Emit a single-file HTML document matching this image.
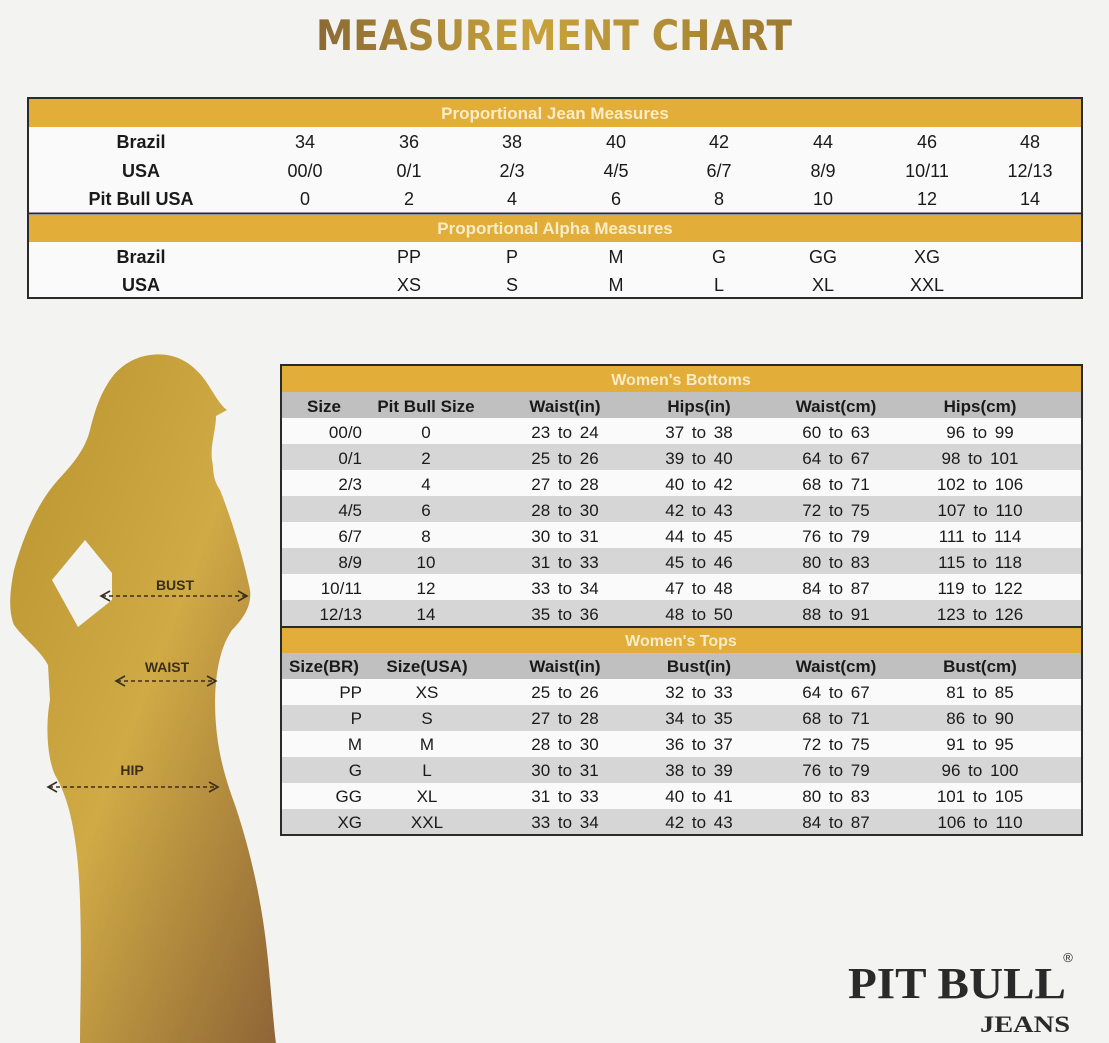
<!DOCTYPE html>
<html><head><meta charset="utf-8"><style>
html,body{margin:0;padding:0;background:#f3f3f2;}
svg{display:block;font-family:"Liberation Sans",Arial,sans-serif;}
</style></head><body>
<svg width="1109" height="1043" viewBox="0 0 1109 1043" xmlns="http://www.w3.org/2000/svg">
<defs>
<linearGradient id="tg" x1="0" x2="1" y1="0" y2="0">
<stop offset="0" stop-color="#8a6a35"/><stop offset="0.45" stop-color="#c9a33c"/><stop offset="1" stop-color="#9c7a30"/>
</linearGradient>
<linearGradient id="bg" x1="0" y1="0" x2="1" y2="1">
<stop offset="0" stop-color="#b8932e"/><stop offset="0.5" stop-color="#d0aa45"/><stop offset="1" stop-color="#8e6536"/>
</linearGradient>
</defs>
<rect width="1109" height="1043" fill="#f3f3f2"/>
<text x="554" y="50" font-family="'DejaVu Sans',sans-serif" font-size="42" font-weight="bold" text-anchor="middle" fill="url(#tg)" textLength="476" lengthAdjust="spacingAndGlyphs">MEASUREMENT CHART</text>

<!-- top table -->
<rect x="28" y="98" width="1054" height="200" fill="#fafafa" stroke="#2a2a2a" stroke-width="2"/>
<rect x="29" y="99" width="1052" height="28" fill="#e2ad38"/>
<rect x="29" y="215" width="1052" height="27" fill="#e2ad38"/>
<line x1="28" y1="213.5" x2="1082" y2="213.5" stroke="#2a2a2a" stroke-width="2"/>
<g font-size="17" font-weight="bold" fill="#f8edc8" text-anchor="middle">
<text x="555" y="119">Proportional Jean Measures</text>
<text x="555" y="234">Proportional Alpha Measures</text>
</g>
<g font-size="18" fill="#1a1a1a" text-anchor="middle">
<g font-weight="bold"><text x="141" y="148">Brazil</text><text x="141" y="177">USA</text><text x="141" y="205">Pit Bull USA</text><text x="141" y="263">Brazil</text><text x="141" y="291">USA</text></g>
<text x="305" y="148">34</text><text x="409" y="148">36</text><text x="512" y="148">38</text><text x="616" y="148">40</text><text x="719" y="148">42</text><text x="823" y="148">44</text><text x="927" y="148">46</text><text x="1030" y="148">48</text>
<text x="305" y="177">00/0</text><text x="409" y="177">0/1</text><text x="512" y="177">2/3</text><text x="616" y="177">4/5</text><text x="719" y="177">6/7</text><text x="823" y="177">8/9</text><text x="927" y="177">10/11</text><text x="1030" y="177">12/13</text>
<text x="305" y="205">0</text><text x="409" y="205">2</text><text x="512" y="205">4</text><text x="616" y="205">6</text><text x="719" y="205">8</text><text x="823" y="205">10</text><text x="927" y="205">12</text><text x="1030" y="205">14</text>
<text x="409" y="263">PP</text><text x="512" y="263">P</text><text x="616" y="263">M</text><text x="719" y="263">G</text><text x="823" y="263">GG</text><text x="927" y="263">XG</text>
<text x="409" y="291">XS</text><text x="512" y="291">S</text><text x="616" y="291">M</text><text x="719" y="291">L</text><text x="823" y="291">XL</text><text x="927" y="291">XXL</text>
</g>

<!-- silhouette -->
<path fill="url(#bg)" d="M150 355 C172 352 190 360 205 380 C215 395 220 405 227 410 L216 416 C216 430 210 445 212 460 C214 470 212 478 220 490 C232 520 244 560 250 590 C252 605 244 618 232 630 C222 645 216 665 215 700 C215 740 222 770 235 805 C250 850 262 900 268 960 C272 1000 274 1030 276 1043 L80 1043 C80 1010 82 960 80 900 C78 840 70 800 55 775 C46 755 46 720 50 700 L48 665 C40 650 25 640 14 625 C8 610 10 590 14 570 C25 530 40 500 58 480 C72 465 85 450 90 430 C95 410 100 395 110 380 C120 365 135 357 150 355 Z M85 540 L112 573 L112 600 L78 627 L52 580 Z" fill-rule="evenodd"/>
<g font-size="14" font-weight="bold" fill="#3a2f1c" text-anchor="middle">
<text x="175" y="590">BUST</text><text x="167" y="672">WAIST</text><text x="132" y="775">HIP</text>
</g>
<g stroke="#3a2f1c" stroke-width="1.6" fill="none">
<line x1="102" y1="596" x2="246" y2="596" stroke-dasharray="4 3"/>
<polyline points="110,591 101,596 110,601"/><polyline points="238,591 247,596 238,601"/>
<line x1="117" y1="681" x2="215" y2="681" stroke-dasharray="4 3"/>
<polyline points="125,676 116,681 125,686"/><polyline points="207,676 216,681 207,686"/>
<line x1="49" y1="787" x2="217" y2="787" stroke-dasharray="4 3"/>
<polyline points="57,782 48,787 57,792"/><polyline points="209,782 218,787 209,792"/>
</g>

<!-- bottom table -->
<rect x="281" y="365" width="801" height="470" fill="#fafafa" stroke="#2a2a2a" stroke-width="2"/>
<rect x="282" y="366" width="799" height="26" fill="#e2ad38"/>
<rect x="282" y="392" width="799" height="26" fill="#c0c0c0"/>
<g fill="#d6d6d6">
<rect x="282" y="444" width="799" height="26"/><rect x="282" y="496" width="799" height="26"/><rect x="282" y="548" width="799" height="26"/><rect x="282" y="600" width="799" height="26"/>
</g>
<line x1="281" y1="627" x2="1082" y2="627" stroke="#2a2a2a" stroke-width="2"/>
<rect x="282" y="628" width="799" height="25" fill="#e2ad38"/>
<rect x="282" y="653" width="799" height="26" fill="#c0c0c0"/>
<g fill="#d6d6d6">
<rect x="282" y="705" width="799" height="26"/><rect x="282" y="757" width="799" height="26"/><rect x="282" y="809" width="799" height="25"/>
</g>
<g font-size="16" font-weight="bold" fill="#f8edc8" text-anchor="middle">
<text x="681" y="385">Women's Bottoms</text><text x="681" y="646">Women's Tops</text>
</g>
<g font-size="17" font-weight="bold" fill="#1a1a1a" text-anchor="middle">
<text x="324" y="412">Size</text><text x="426" y="412">Pit Bull Size</text><text x="565" y="412">Waist(in)</text><text x="699" y="412">Hips(in)</text><text x="836" y="412">Waist(cm)</text><text x="980" y="412">Hips(cm)</text>
<text x="324" y="672">Size(BR)</text><text x="427" y="672">Size(USA)</text><text x="565" y="672">Waist(in)</text><text x="699" y="672">Bust(in)</text><text x="836" y="672">Waist(cm)</text><text x="980" y="672">Bust(cm)</text>
</g>
<g font-size="17" fill="#1a1a1a" text-anchor="end">
<text x="362" y="438">00/0</text><text x="362" y="464">0/1</text><text x="362" y="490">2/3</text><text x="362" y="516">4/5</text><text x="362" y="542">6/7</text><text x="362" y="568">8/9</text><text x="362" y="594">10/11</text><text x="362" y="620">12/13</text>
<text x="362" y="698">PP</text><text x="362" y="724">P</text><text x="362" y="750">M</text><text x="362" y="776">G</text><text x="362" y="802">GG</text><text x="362" y="828">XG</text>
</g>
<g font-size="17" fill="#1a1a1a" text-anchor="middle" word-spacing="3">
<text x="426" y="438">0</text><text x="565" y="438">23 to 24</text><text x="699" y="438">37 to 38</text><text x="836" y="438">60 to 63</text><text x="980" y="438">96 to 99</text>
<text x="426" y="464">2</text><text x="565" y="464">25 to 26</text><text x="699" y="464">39 to 40</text><text x="836" y="464">64 to 67</text><text x="980" y="464">98 to 101</text>
<text x="426" y="490">4</text><text x="565" y="490">27 to 28</text><text x="699" y="490">40 to 42</text><text x="836" y="490">68 to 71</text><text x="980" y="490">102 to 106</text>
<text x="426" y="516">6</text><text x="565" y="516">28 to 30</text><text x="699" y="516">42 to 43</text><text x="836" y="516">72 to 75</text><text x="980" y="516">107 to 110</text>
<text x="426" y="542">8</text><text x="565" y="542">30 to 31</text><text x="699" y="542">44 to 45</text><text x="836" y="542">76 to 79</text><text x="980" y="542">111 to 114</text>
<text x="426" y="568">10</text><text x="565" y="568">31 to 33</text><text x="699" y="568">45 to 46</text><text x="836" y="568">80 to 83</text><text x="980" y="568">115 to 118</text>
<text x="426" y="594">12</text><text x="565" y="594">33 to 34</text><text x="699" y="594">47 to 48</text><text x="836" y="594">84 to 87</text><text x="980" y="594">119 to 122</text>
<text x="426" y="620">14</text><text x="565" y="620">35 to 36</text><text x="699" y="620">48 to 50</text><text x="836" y="620">88 to 91</text><text x="980" y="620">123 to 126</text>
<text x="427" y="698">XS</text><text x="565" y="698">25 to 26</text><text x="699" y="698">32 to 33</text><text x="836" y="698">64 to 67</text><text x="980" y="698">81 to 85</text>
<text x="427" y="724">S</text><text x="565" y="724">27 to 28</text><text x="699" y="724">34 to 35</text><text x="836" y="724">68 to 71</text><text x="980" y="724">86 to 90</text>
<text x="427" y="750">M</text><text x="565" y="750">28 to 30</text><text x="699" y="750">36 to 37</text><text x="836" y="750">72 to 75</text><text x="980" y="750">91 to 95</text>
<text x="427" y="776">L</text><text x="565" y="776">30 to 31</text><text x="699" y="776">38 to 39</text><text x="836" y="776">76 to 79</text><text x="980" y="776">96 to 100</text>
<text x="427" y="802">XL</text><text x="565" y="802">31 to 33</text><text x="699" y="802">40 to 41</text><text x="836" y="802">80 to 83</text><text x="980" y="802">101 to 105</text>
<text x="427" y="828">XXL</text><text x="565" y="828">33 to 34</text><text x="699" y="828">42 to 43</text><text x="836" y="828">84 to 87</text><text x="980" y="828">106 to 110</text>
</g>

<!-- logo -->
<text x="848" y="998" font-family="'Liberation Serif',serif" font-size="44" font-weight="bold" fill="#2a2a2a" textLength="218" lengthAdjust="spacingAndGlyphs">PIT BULL</text>
<text x="1068" y="962" font-size="13" fill="#2a2a2a" text-anchor="middle">®</text>
<text x="980" y="1032" font-family="'Liberation Serif',serif" font-size="23" font-weight="bold" fill="#2a2a2a" textLength="90" lengthAdjust="spacingAndGlyphs">JEANS</text>
</svg>
</body></html>
